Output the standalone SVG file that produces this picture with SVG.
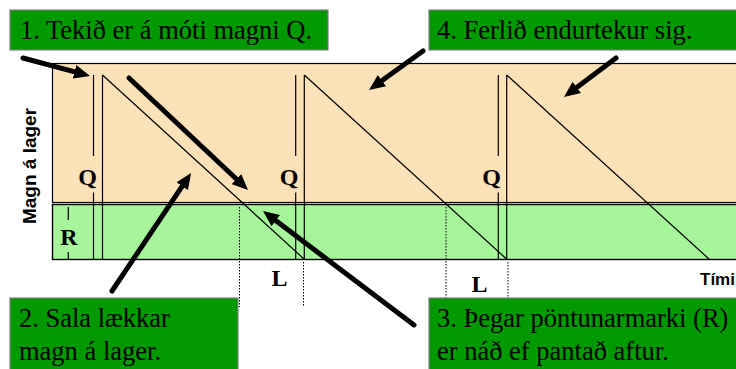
<svg xmlns="http://www.w3.org/2000/svg" width="736" height="369" viewBox="0 0 736 369">
<defs>
<style>
.box{fill:#009900;stroke:#808080;stroke-width:1.2}
.bt{font-family:"Liberation Serif","Times New Roman",serif;font-size:26.5px;fill:#000}
.lbl{font-family:"Liberation Serif","Times New Roman",serif;font-size:24px;font-weight:bold;fill:#000;text-anchor:middle}
.ax{font-family:"Liberation Sans",Arial,sans-serif;font-weight:bold;fill:#000}
.thin{stroke:#000;stroke-width:1.2;fill:none}
.dot{stroke:#000;stroke-width:1;stroke-dasharray:1.5 1.5;fill:none}
.arr{stroke:#000;stroke-width:5;stroke-linecap:round;fill:none;marker-end:url(#ah)}
</style>
<marker id="ah" markerUnits="userSpaceOnUse" markerWidth="16" markerHeight="14" viewBox="0 0 16 14" refX="8" refY="7" orient="auto">
<path d="M0,0 L16,7 L0,14 z" fill="#000"/>
</marker>
</defs>
<rect width="736" height="369" fill="#fff"/>

<g id="chart">
<rect x="52.5" y="63.5" width="700" height="139" fill="#FCE1B9" stroke="#000" stroke-width="1.2"/>
<rect x="52.5" y="204.5" width="700" height="55" fill="#A6F59A" stroke="#000" stroke-width="1.4"/>
<path class="thin" d="M93.5,75 V156 M93.5,192.5 V259 M102.5,75 V259 M102.5,75 L304,259"/>
<path class="thin" d="M295.7,75 V156 M295.7,192.5 V259 M304.3,75 V259 M304.3,75 L506.5,259"/>
<path class="thin" d="M498.3,75 V156 M498.3,192.5 V259 M506.7,75 V259 M506.7,75 L709,259"/>
<path class="thin" d="M68.3,207 V220 M68.3,252 V259"/>
<path class="dot" d="M239.5,207 V307 M303.5,262 V307 M446,207 V298 M508,262 V298"/>
<text class="lbl" x="87.5" y="185">Q</text>
<text class="lbl" x="289" y="185">Q</text>
<text class="lbl" x="491.7" y="185">Q</text>
<text class="lbl" x="69" y="245">R</text>
<text class="lbl" x="279.5" y="286">L</text>
<text class="lbl" x="479.5" y="292">L</text>
<text class="ax" font-size="19" text-anchor="middle" transform="translate(36,166) rotate(-90)">Magn á lager</text>
<text class="ax" font-size="17" x="700" y="285">Tími</text>
</g>

<g id="box1">
<rect class="box" x="10" y="10" width="318" height="40"/>
<text class="bt" x="20" y="38.5">1. Tekið er á móti magni Q.</text>
</g>
<g id="box4">
<rect class="box" x="429" y="10" width="320" height="40"/>
<text class="bt" x="437" y="38.5">4. Ferlið endurtekur sig.</text>
</g>
<g id="box2">
<rect class="box" x="10" y="298" width="228" height="80"/>
<text class="bt" x="19" y="327">2. Sala lækkar</text>
<text class="bt" x="19" y="360">magn á lager.</text>
</g>
<g id="box3">
<rect class="box" x="429" y="298" width="320" height="80"/>
<text class="bt" x="437" y="327">3. Þegar pöntunarmarki (R)</text>
<text class="bt" x="437" y="360">er náð ef pantað aftur.</text>
</g>

<g id="connectors">
<line class="arr" x1="23" y1="58" x2="82.3" y2="73.9"/>
<line class="arr" x1="129" y1="78" x2="242.2" y2="184.5"/>
<line class="arr" x1="112" y1="291" x2="186.6" y2="179.6"/>
<line class="arr" x1="414" y1="325" x2="269.4" y2="215.8"/>
<line class="arr" x1="423" y1="51" x2="375.5" y2="85.3"/>
<line class="arr" x1="616" y1="58" x2="570.4" y2="92.2"/>
</g>
</svg>
